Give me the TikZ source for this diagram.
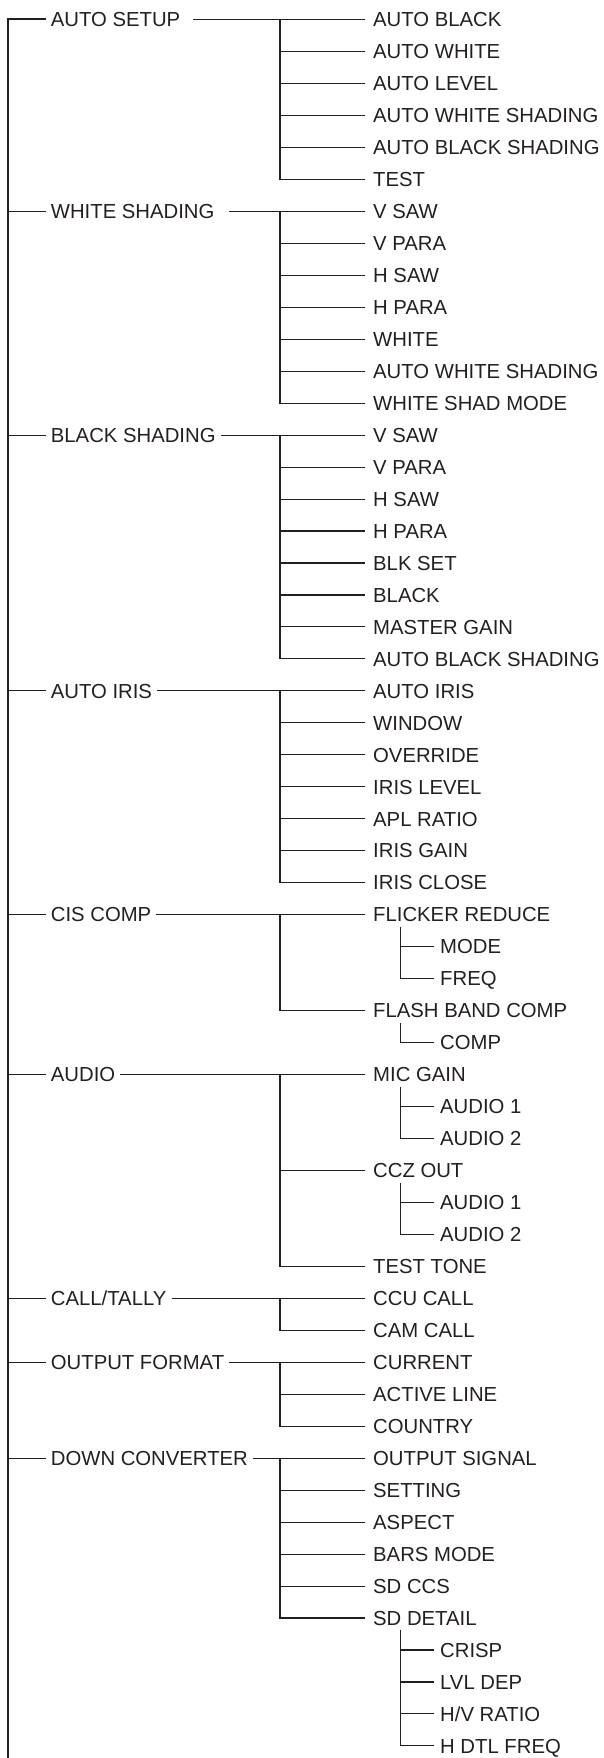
\documentclass[tikz,border=0pt]{standalone}
\usepackage{fontspec}
\setmainfont{Liberation Sans}
\definecolor{ink}{HTML}{231F20}
\tikzset{
  lbl/.style={anchor=west, font=\fontsize{20.3}{24}\selectfont, text height=14.5pt, text depth=0pt, inner ysep=5pt, text=ink},
  toplbl/.style={lbl, inner xsep=5pt},
  sublbl/.style={lbl, inner xsep=8pt},
  leaflbl/.style={lbl, inner xsep=6.5pt},
  wire/.style={draw=ink, line width=1.1pt},
  spine/.style={draw=ink, line width=2pt},
}
\begin{document}
\begin{tikzpicture}
\useasboundingbox (0pt,0pt) rectangle (604pt,-1758pt);
\coordinate (spend) at (7.5pt,-1759pt);
\begin{scope}[x=1pt, y=-31.97pt, shift={(0pt,12.47pt)}]
\coordinate (jx) at (280,1);
\coordinate (kx) at (400.7,1);
% top level
\node[toplbl] (t1) at (45.7,1) {AUTO SETUP};
\node[toplbl] (t2) at (45.7,7) {WHITE SHADING};
\node[toplbl] (t3) at (45.7,14) {BLACK SHADING};
\node[toplbl] (t4) at (45.7,22) {AUTO IRIS};
\node[toplbl] (t5) at (45.7,29) {CIS COMP};
\node[toplbl] (t6) at (45.7,34) {AUDIO};
\node[toplbl] (t7) at (45.7,41) {CALL/TALLY};
\node[toplbl] (t8) at (45.7,43) {OUTPUT FORMAT};
\node[toplbl] (t9) at (45.7,46) {DOWN CONVERTER};
% AUTO SETUP
\node[sublbl] (a1) at (365,1) {AUTO BLACK};
\node[sublbl] (a2) at (365,2) {AUTO WHITE};
\node[sublbl] (a3) at (365,3) {AUTO LEVEL};
\node[sublbl] (a4) at (365,4) {AUTO WHITE SHADING};
\node[sublbl] (a5) at (365,5) {AUTO BLACK SHADING};
\node[sublbl] (a6) at (365,6) {TEST};
% WHITE SHADING
\node[sublbl] (b1) at (365,7) {V SAW};
\node[sublbl] (b2) at (365,8) {V PARA};
\node[sublbl] (b3) at (365,9) {H SAW};
\node[sublbl] (b4) at (365,10) {H PARA};
\node[sublbl] (b5) at (365,11) {WHITE};
\node[sublbl] (b6) at (365,12) {AUTO WHITE SHADING};
\node[sublbl] (b7) at (365,13) {WHITE SHAD MODE};
% BLACK SHADING
\node[sublbl] (c1) at (365,14) {V SAW};
\node[sublbl] (c2) at (365,15) {V PARA};
\node[sublbl] (c3) at (365,16) {H SAW};
\node[sublbl] (c4) at (365,17) {H PARA};
\node[sublbl] (c5) at (365,18) {BLK SET};
\node[sublbl] (c6) at (365,19) {BLACK};
\node[sublbl] (c7) at (365,20) {MASTER GAIN};
\node[sublbl] (c8) at (365,21) {AUTO BLACK SHADING};
% AUTO IRIS
\node[sublbl] (d1) at (365,22) {AUTO IRIS};
\node[sublbl] (d2) at (365,23) {WINDOW};
\node[sublbl] (d3) at (365,24) {OVERRIDE};
\node[sublbl] (d4) at (365,25) {IRIS LEVEL};
\node[sublbl] (d5) at (365,26) {APL RATIO};
\node[sublbl] (d6) at (365,27) {IRIS GAIN};
\node[sublbl] (d7) at (365,28) {IRIS CLOSE};
% CIS COMP
\node[sublbl] (e1) at (365,29) {FLICKER REDUCE};
\node[leaflbl] (e1a) at (433.5,30) {MODE};
\node[leaflbl] (e1b) at (433.5,31) {FREQ};
\node[sublbl] (e2) at (365,32) {FLASH BAND COMP};
\node[leaflbl] (e2a) at (433.5,33) {COMP};
% AUDIO
\node[sublbl] (f1) at (365,34) {MIC GAIN};
\node[leaflbl] (f1a) at (433.5,35) {AUDIO 1};
\node[leaflbl] (f1b) at (433.5,36) {AUDIO 2};
\node[sublbl] (f2) at (365,37) {CCZ OUT};
\node[leaflbl] (f2a) at (433.5,38) {AUDIO 1};
\node[leaflbl] (f2b) at (433.5,39) {AUDIO 2};
\node[sublbl] (f3) at (365,40) {TEST TONE};
% CALL/TALLY
\node[sublbl] (g1) at (365,41) {CCU CALL};
\node[sublbl] (g2) at (365,42) {CAM CALL};
% OUTPUT FORMAT
\node[sublbl] (h1) at (365,43) {CURRENT};
\node[sublbl] (h2) at (365,44) {ACTIVE LINE};
\node[sublbl] (h3) at (365,45) {COUNTRY};
% DOWN CONVERTER
\node[sublbl] (i1) at (365,46) {OUTPUT SIGNAL};
\node[sublbl] (i2) at (365,47) {SETTING};
\node[sublbl] (i3) at (365,48) {ASPECT};
\node[sublbl] (i4) at (365,49) {BARS MODE};
\node[sublbl] (i5) at (365,50) {SD CCS};
\node[sublbl] (i6) at (365,51) {SD DETAIL};
\node[leaflbl] (i6a) at (433.5,52) {CRISP};
\node[leaflbl] (i6b) at (433.5,53) {LVL DEP};
\node[leaflbl] (i6c) at (433.5,54) {H/V RATIO};
\node[leaflbl] (i6d) at (433.5,55) {H DTL FREQ};
\end{scope}
% spine
\draw[spine] (t1.west) -| (spend);
\foreach \t in {t2,t3,t4,t5,t6,t7,t8,t9}
  \draw[wire] (\t.west -| spend) -- (\t.west);
% group connectors
\draw[wire] ([xshift=8pt]t1.east) -- (a1.west);
\draw[wire] (a1.west -| jx) |- (a6.west);
\foreach \n in {a2,a3,a4,a5} \draw[wire] (\n.west -| jx) -- (\n.west);
\draw[wire] ([xshift=9pt]t2.east) -- (b1.west);
\draw[wire] (b1.west -| jx) |- (b7.west);
\foreach \n in {b2,b3,b4,b5,b6} \draw[wire] (\n.west -| jx) -- (\n.west);
\draw[wire] (t3.east) -- (c1.west);
\draw[wire] (c1.west -| jx) |- (c8.west);
\foreach \n in {c2,c3,c4,c5,c6,c7} \draw[wire] (\n.west -| jx) -- (\n.west);
\draw[wire] (t4.east) -- (d1.west);
\draw[wire] (d1.west -| jx) |- (d7.west);
\foreach \n in {d2,d3,d4,d5,d6} \draw[wire] (\n.west -| jx) -- (\n.west);
\draw[wire] (t5.east) -- (e1.west);
\draw[wire] (e1.west -| jx) |- (e2.west);
\draw[wire] (t6.east) -- (f1.west);
\draw[wire] (f1.west -| jx) |- (f3.west);
\draw[wire] (f2.west -| jx) -- (f2.west);
\draw[wire] (t7.east) -- (g1.west);
\draw[wire] (g1.west -| jx) |- (g2.west);
\draw[wire] (t8.east) -- (h1.west);
\draw[wire] (h1.west -| jx) |- (h3.west);
\draw[wire] (h2.west -| jx) -- (h2.west);
\draw[wire] (t9.east) -- (i1.west);
\draw[wire] (i1.west -| jx) |- (i6.west);
\foreach \n in {i2,i3,i4,i5} \draw[wire] (\n.west -| jx) -- (\n.west);
% third level
\draw[wire] (e1.south -| kx) |- (e1b.west);
\draw[wire] (e1a.west -| kx) -- (e1a.west);
\draw[wire] (e2.south -| kx) |- (e2a.west);
\draw[wire] (f1.south -| kx) |- (f1b.west);
\draw[wire] (f1a.west -| kx) -- (f1a.west);
\draw[wire] (f2.south -| kx) |- (f2b.west);
\draw[wire] (f2a.west -| kx) -- (f2a.west);
\draw[wire] (i6.south -| kx) |- (i6d.west);
\foreach \n in {i6a,i6b,i6c} \draw[wire] (\n.west -| kx) -- (\n.west);
\end{tikzpicture}
\end{document}
